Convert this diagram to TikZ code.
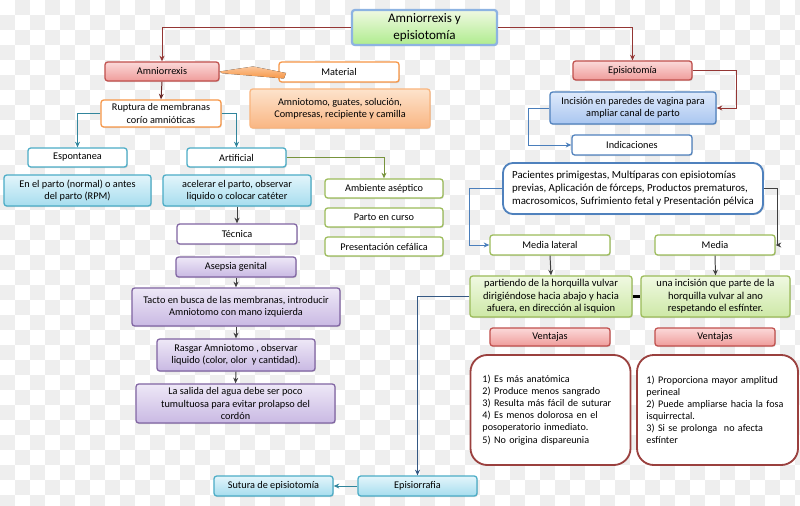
\documentclass[tikz,border=0pt]{standalone}
\usepackage{fontspec}
\setmainfont{Carlito}
\usetikzlibrary{arrows.meta,shadows}

\definecolor{redbd}{HTML}{C0504D}
\definecolor{redtop}{HTML}{FBD9D9}
\definecolor{redbot}{HTML}{EF9C9A}
\definecolor{orbd}{HTML}{F79646}
\definecolor{ortop}{HTML}{FDE3CC}
\definecolor{orbot}{HTML}{F9B683}
\definecolor{bluebd}{HTML}{4F81BD}
\definecolor{bluetop}{HTML}{DFEAFB}
\definecolor{bluebot}{HTML}{A9C6F0}
\definecolor{cyanbd}{HTML}{4BACC6}
\definecolor{cyantop}{HTML}{E3F5FB}
\definecolor{cyanbot}{HTML}{A6DDEE}
\definecolor{purbd}{HTML}{8064A2}
\definecolor{purtop}{HTML}{EEE8F7}
\definecolor{purbot}{HTML}{C9B9E3}
\definecolor{grnbd}{HTML}{9BBB59}
\definecolor{grntop}{HTML}{F0F9E2}
\definecolor{grnbot}{HTML}{CDE8A6}
\definecolor{titlebd}{HTML}{8DB3E2}
\definecolor{lnred}{HTML}{943634}
\definecolor{lnteal}{HTML}{31859C}
\definecolor{lnolive}{HTML}{77933C}
\definecolor{lnblue}{HTML}{4A7EBB}
\definecolor{lndark}{HTML}{404040}
\definecolor{checker}{HTML}{EEEEEE}

\begin{document}
\begin{tikzpicture}[x=0.025cm, y=-0.025cm,
    every node/.style={font=\fontsize{7.3}{8.8}\selectfont, align=center, inner sep=1pt},
    box/.style={draw, rounded corners=2pt, line width=0.9pt,
        drop shadow={shadow xshift=0.6pt, shadow yshift=-0.8pt, opacity=0.25}},
    redbox/.style={box, draw=redbd, top color=redtop, bottom color=redbot},
    orline/.style={box, draw=orbd, fill=white},
    orbox/.style={box, draw=orbd!70, top color=ortop, bottom color=orbot},
    bluebox/.style={box, draw=bluebd, top color=bluetop, bottom color=bluebot},
    blueline/.style={box, draw=bluebd, fill=white},
    cyanline/.style={box, draw=cyanbd, fill=white},
    cyanbox/.style={box, draw=cyanbd, top color=cyantop, bottom color=cyanbot},
    purline/.style={box, draw=purbd, fill=white},
    purbox/.style={box, draw=purbd, top color=purtop, bottom color=purbot},
    grnline/.style={box, draw=grnbd, fill=white},
    grnbox/.style={box, draw=grnbd, top color=grntop, bottom color=grnbot},
    listbox/.style={draw=redbd!80!black, line width=1.3pt, fill=white, rounded corners=12pt,
        minimum width=4cm, minimum height=2.75cm, align=left, text width=3.4cm,
        font=\fontsize{7.2}{8.6}\selectfont},
    con/.style={line width=0.7pt, -{Stealth[length=4pt, width=3.5pt]}}]

    \useasboundingbox (0,0) rectangle (800,505);
    % Background
    \foreach \i in {0,...,53}{
        \foreach \j in {0,...,33}{
            \pgfmathtruncatemacro\chk{mod(\i+\j,2)}
            \ifnum\chk=1 \fill[checker] (\i*15,\j*15) rectangle ++(15,15); \fi
        }
    }

    % Nodes
    \node[box, draw=titlebd, line width=1.6pt, top color=grntop, bottom color=grnbot!85!green,
        minimum width=3.625cm, minimum height=0.875cm, font=\fontsize{9.3}{11.5}\selectfont]
        (title) at (424.5,27.5) {Amniorrexis y\\ episiotomía};

    \node[redbox, minimum width=2.85cm, minimum height=0.475cm] (amnio) at (162,71.5) {Amniorrexis};
    \node[orline, minimum width=3cm, minimum height=0.5cm] (material) at (339,72) {Material};
    \node[orbox, minimum width=4.5cm, minimum height=0.975cm] (amniotomo) at (340,108.5)
        {Amniotomo, guates, solución,\\ Compresas, recipiente y camilla};
    \node[orline, minimum width=3cm, minimum height=0.675cm] (ruptura) at (161,113.5)
        {Ruptura de membranas\\ corío amnióticas};

    \node[cyanline, minimum width=2.475cm, minimum height=0.475cm] (espont) at (77.5,157.5) {Espontanea};
    \node[cyanline, minimum width=2.475cm, minimum height=0.475cm] (artif) at (236.5,157.5) {Artificial};
    \node[cyanbox, minimum width=3.675cm, minimum height=0.775cm] (enparto) at (77.5,190.5)
        {En el parto (normal) o antes\\ del parto (RPM)};
    \node[cyanbox, minimum width=3.7cm, minimum height=0.775cm] (acelerar) at (237,190.5)
        {acelerar el parto, observar\\ liquido o colocar catéter};

    \node[purline, minimum width=3cm, minimum height=0.5cm] (tecnica) at (237,234) {Técnica};
    \node[purbox, minimum width=3cm, minimum height=0.5cm] (asepsia) at (236,267) {Asepsia genital};
    \node[purbox, minimum width=5.2cm, minimum height=0.95cm] (tacto) at (236,307)
        {Tacto en busca de las membranas, introducir\\ Amniotomo con mano izquierda};
    \node[purbox, minimum width=3.95cm, minimum height=0.8cm] (rasgar) at (236,355)
        {Rasgar Amniotomo , observar\\ liquido (color, olor\ \ y cantidad).};
    \node[purbox, minimum width=4.975cm, minimum height=0.975cm] (salida) at (235.5,403.5)
        {La salida del agua debe ser poco\\ tumultuosa para evitar prolapso del\\ cordón};

    \node[grnline, minimum width=2.95cm, minimum height=0.475cm] (ambiente) at (384,188.5) {Ambiente aséptico};
    \node[grnline, minimum width=2.95cm, minimum height=0.475cm] (encurso) at (384,217.5) {Parto en curso};
    \node[grnline, minimum width=2.95cm, minimum height=0.475cm] (cefalica) at (384,246.5) {Presentación cefálica};

    \node[redbox, minimum width=2.975cm, minimum height=0.475cm] (episio) at (632.5,70.5) {Episiotomía};
    \node[bluebox, minimum width=4.15cm, minimum height=0.8cm] (incision) at (633,108)
        {Incisión en paredes de vagina para\\ ampliar canal de parto};
    \node[blueline, minimum width=3cm, minimum height=0.5cm] (indic) at (632,145) {Indicaciones};
    \node[box, draw=bluebd, line width=1.3pt, fill=white, rounded corners=7pt,
        minimum width=6.5cm, minimum height=1.275cm, align=left,
        font=\fontsize{7.7}{9.2}\selectfont] (pacientes) at (633,188.5)
        {Pacientes primigestas, Multíparas con episiotomías\\
         previas, Aplicación de fórceps, Productos prematuros,\\
         macrosomicos, Sufrimiento fetal y Presentación pélvica};

    \node[grnline, minimum width=3cm, minimum height=0.5cm] (mlateral) at (550,245) {Media lateral};
    \node[grnline, minimum width=3cm, minimum height=0.5cm] (media) at (715,245) {Media};
    \node[grnbox, minimum width=4.05cm, minimum height=1.025cm, font=\fontsize{7.5}{9}\selectfont]
        (partiendo) at (551,296.5)
        {partiendo de la horquilla vulvar\\ dirigiéndose hacia abajo y hacia\\ afuera, en dirección al isquion};
    \node[grnbox, minimum width=3.725cm, minimum height=1.025cm, font=\fontsize{7.5}{9}\selectfont]
        (unainc) at (715.5,296.5)
        {una incisión que parte de la\\ horquilla vulvar al ano\\ respetando el esfínter.};

    \node[redbox, minimum width=3cm, minimum height=0.45cm] (vent1) at (550,337) {Ventajas};
    \node[redbox, minimum width=3cm, minimum height=0.45cm] (vent2) at (715,337) {Ventajas};
    \node[listbox] (lista1) at (550.5,410)
        {1) Es más anatómica\\ 2) Produce menos sangrado\\ 3) Resulta más fácil de suturar\\
         4) Es menos dolorosa en el\\ posoperatorio inmediato.\\ 5) No origina dispareunia};
    \node[listbox, minimum width=4.025cm, text width=3.55cm] (lista2) at (717.5,410)
        {1) Proporciona mayor amplitud\\ perineal\\ 2) Puede ampliarse hacia la fosa\\
         isquirrectal.\\ 3) Si se prolonga\ \ no afecta\\ esfínter};

    \node[cyanbox, minimum width=2.975cm, minimum height=0.5cm] (episior) at (417.5,486) {Episiorrafia};
    \node[cyanbox, minimum width=2.975cm, minimum height=0.5cm] (sutura) at (273.5,486) {Sutura de episiotomía};

    % Edges
    \draw[con, lnred] (title.west) -| (amnio.north);
    \draw[con, lnred] (title.east) -| (episio.north);
    \fill[top color=orbd!55, bottom color=orbd] (amnio.east) -- (253,66.5) -- (286,73) -- (284,78.5) -- (222,73.2) -- cycle;
    \draw[con, lnred!70!black] (amnio.south) -- (ruptura.north);
    \draw[con, lnteal] (ruptura.west) -| (espont.north);
    \draw[con, lnteal] (ruptura.east) -| (artif.north);
    \draw[con, lnolive] (artif.east) -| (ambiente.north);
    \draw[con, lndark] (acelerar.south) -- (tecnica.north);
    \draw[con, lndark] (asepsia.south) -- (tacto.north);
    \draw[con, lndark] (tacto.south) -- (rasgar.north);
    \draw[con, lndark] (rasgar.south) -- (salida.north);

    \draw[con, lnred] (episio.east) -- ++(44,0) |- (incision.east);
    \draw[con, lnblue] (incision.west) -- ++(-21,0) |- (indic.west);
    \draw[con, lnblue] (pacientes.west) -- ++(-33,0) |- (mlateral.west);
    \draw[con, lndark] (pacientes.east) -- ++(14,0) |- (media.east);
    \draw[con, lndark] (mlateral.south) -- (partiendo.north);
    \draw[con, lndark] (media.south) -- (unainc.north);
    \draw[line width=2pt] (partiendo.east) -- (unainc.west);
    \draw[con, lnblue!70!black] (partiendo.west) -| (episior.north);
    \draw[con, lnteal] (episior.west) -- (sutura.east);
\end{tikzpicture}
\end{document}
